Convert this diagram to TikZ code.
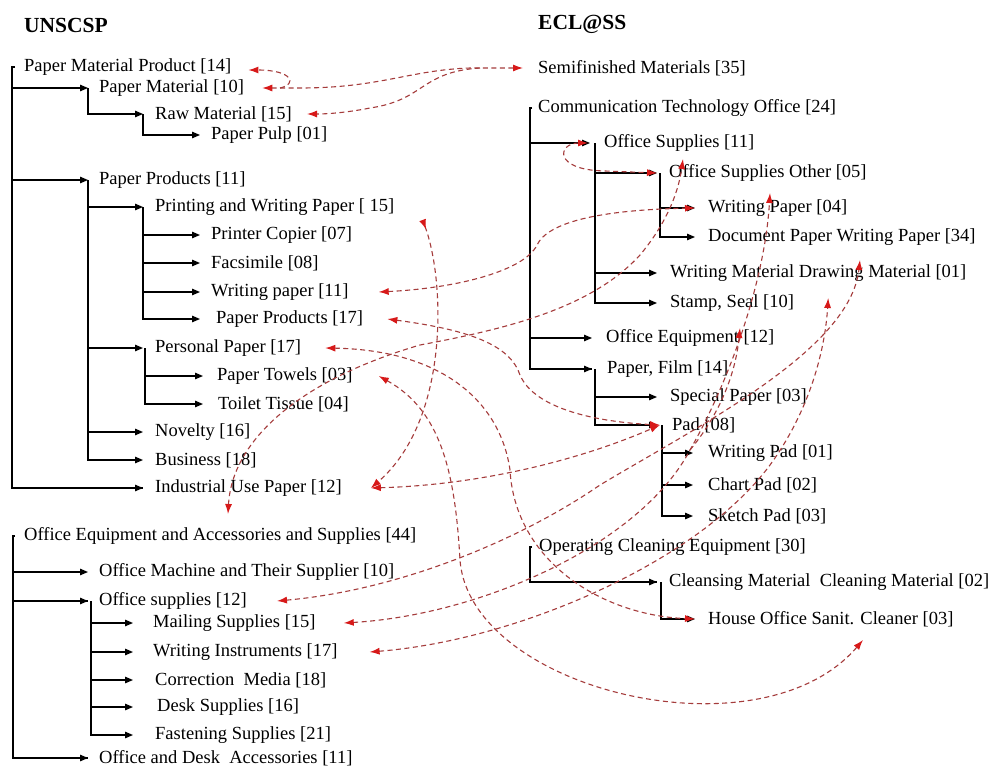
\documentclass[tikz,border=0pt]{standalone}
\usepackage{fontspec}
\setmainfont{Liberation Serif}
\usetikzlibrary{arrows.meta}
\definecolor{linkred}{RGB}{165,60,60}
\definecolor{tipred}{RGB}{215,25,25}
\begin{document}
\begin{tikzpicture}[x=1pt,y=-1pt,
  lbl/.style={anchor=west,inner sep=0pt,font=\fontsize{18.5}{20}\selectfont},
  head/.style={anchor=west,inner sep=0pt,font=\fontsize{21.5}{24}\selectfont\bfseries},
  tree/.style={line width=1.3pt,-{Triangle[length=8pt,width=6.5pt]}},
  bar/.style={line width=1.3pt},
  trunk/.style={line width=2.6pt},
  link/.style={draw=linkred,line width=1.1pt,dash pattern=on 5pt off 3.5pt,
    >={Latex[length=10pt,width=7pt,color=tipred]}},
  backtip/.style={arrows={{Latex[reversed,length=10pt,width=7pt,color=tipred]}-{Latex[length=10pt,width=7pt,color=tipred]}}}]
\fill[white] (0,0) rectangle (994,771);
\useasboundingbox (0,0) rectangle (994,771);

% ---------------- UNSCSP ----------------
\node[head] (hu) at (24,25) {UNSCSP};
\node[lbl] (pmp) at (24,67) {Paper Material Product [14]};
\node[lbl] (pm) at (99,88) {Paper Material [10]};
\node[lbl] (rm) at (155,114) {Raw Material [15]};
\node[lbl] (pulp) at (211,135) {Paper Pulp [01]};
\node[lbl] (pprod) at (99,180) {Paper Products [11]};
\node[lbl] (pwp) at (155,207) {Printing and Writing Paper [ 15]};
\node[lbl] (pc) at (211,235) {Printer Copier [07]};
\node[lbl] (fax) at (211,263) {Facsimile [08]};
\node[lbl] (wp) at (211,292) {Writing paper [11]};
\node[lbl] (pp17) at (216,319) {Paper Products [17]};
\node[lbl] (pers) at (155,348) {Personal Paper [17]};
\node[lbl] (towel) at (217,376) {Paper Towels [03]};
\node[lbl] (tissue) at (218,404) {Toilet Tissue [04]};
\node[lbl] (nov) at (155,432) {Novelty [16]};
\node[lbl] (bus) at (155,460) {Business [18]};
\node[lbl] (ind) at (155,488) {Industrial Use Paper [12]};

\node[lbl] (oeas) at (24,536) {Office Equipment and Accessories and Supplies [44]};
\node[lbl] (omts) at (99,572) {Office Machine and Their Supplier [10]};
\node[lbl] (os12) at (99,601) {Office supplies [12]};
\node[lbl] (mail) at (153,623) {Mailing Supplies [15]};
\node[lbl] (wi) at (153,652) {Writing Instruments [17]};
\node[lbl] (cm) at (155,680) {Correction\ \ Media [18]};
\node[lbl] (ds) at (157,707) {Desk Supplies [16]};
\node[lbl] (fs) at (155,735) {Fastening Supplies [21]};
\node[lbl] (oda) at (99,758) {Office and Desk\ \ Accessories [11]};

% ---------------- ECL@SS ----------------
\node[head] (he) at (538,24) {ECL@SS};
\node[lbl] (semi) at (538,68) {Semifinished Materials [35]};
\node[lbl] (cto) at (538,108) {Communication Technology Office [24]};
\node[lbl] (os11) at (604,143) {Office Supplies [11]};
\node[lbl] (oso) at (669,173) {Office Supplies Other [05]};
\node[lbl] (wp04) at (708,208) {Writing Paper [04]};
\node[lbl] (dpwp) at (708,237) {Document Paper Writing Paper [34]};
\node[lbl] (wmdm) at (670,273) {Writing Material Drawing Material [01]};
\node[lbl] (ss) at (670,303) {Stamp, Seal [10]};
\node[lbl] (oe) at (606,338) {Office Equipment [12]};
\node[lbl] (pf) at (607,369) {Paper, Film [14]};
\node[lbl] (sp) at (670,397) {Special Paper [03]};
\node[lbl] (pad) at (672,425) {Pad [08]};
\node[lbl] (wpad) at (708,453) {Writing Pad [01]};
\node[lbl] (cp) at (708,485) {Chart Pad [02]};
\node[lbl] (skp) at (708,516) {Sketch Pad [03]};
\node[lbl] (oce) at (539,547) {Operating Cleaning Equipment [30]};
\node[lbl] (cmcm) at (669,582) {Cleansing Material\ \ Cleaning Material [02]};
\node[lbl] (hosc) at (708,619) {House Office Sanit. Cleaner [03]};

% ---------------- tree connectors, left ----------------
\draw[bar] ([xshift=-9pt]pmp.west) -- ([xshift=-12pt]pmp.west) |- ([xshift=-12pt]ind.west);
\draw[tree] ([xshift=-12pt]pmp.west) |- ([xshift=-11pt]pm.west);
\draw[tree] ([xshift=-12pt]pmp.west) |- ([xshift=-11pt]pprod.west);
\draw[tree] ([xshift=-12pt]pmp.west) |- ([xshift=-12pt]ind.west);
\draw[tree] ([xshift=-11pt]pm.west) |- ([xshift=-12pt]rm.west);
\draw[tree] ([xshift=-12pt]rm.west) |- ([xshift=-11pt]pulp.west);
\draw[tree] ([xshift=-11pt]pprod.west) |- ([xshift=-12pt]pwp.west);
\draw[tree] ([xshift=-11pt]pprod.west) |- ([xshift=-12pt]pers.west);
\draw[tree] ([xshift=-11pt]pprod.west) |- ([xshift=-12pt]nov.west);
\draw[tree] ([xshift=-11pt]pprod.west) |- ([xshift=-12pt]bus.west);
\draw[tree] ([xshift=-12pt]pwp.west) |- ([xshift=-11pt]pc.west);
\draw[tree] ([xshift=-12pt]pwp.west) |- ([xshift=-11pt]fax.west);
\draw[tree] ([xshift=-12pt]pwp.west) |- ([xshift=-11pt]wp.west);
\draw[tree] ([xshift=-12pt]pwp.west) |- ([xshift=-16pt]pp17.west);
\draw[tree] ([xshift=-10pt]pers.west) |- ([xshift=-14pt]towel.west);
\draw[tree] ([xshift=-10pt]pers.west) |- ([xshift=-15pt]tissue.west);

\draw[trunk] ([xshift=-11pt]oeas.west) |- ([xshift=-11pt]os12.west);
\draw[bar] ([xshift=-9pt]oeas.west) -- ([xshift=-11pt]oeas.west) |- ([xshift=-11pt]oda.west);
\draw[tree] ([xshift=-11pt]oeas.west) |- ([xshift=-11pt]omts.west);
\draw[tree] ([xshift=-11pt]oeas.west) |- ([xshift=-11pt]os12.west);
\draw[tree] ([xshift=-11pt]oeas.west) |- ([xshift=-11pt]oda.west);
\draw[trunk] ([xshift=-8pt]os12.west) -- ([xshift=-8pt]os12.west |- fs.west);
\draw[tree] ([xshift=-8pt]os12.west) |- ([xshift=-20pt]mail.west);
\draw[tree] ([xshift=-8pt]os12.west) |- ([xshift=-20pt]wi.west);
\draw[tree] ([xshift=-8pt]os12.west) |- ([xshift=-22pt]cm.west);
\draw[tree] ([xshift=-8pt]os12.west) |- ([xshift=-24pt]ds.west);
\draw[tree] ([xshift=-8pt]os12.west) |- ([xshift=-22pt]fs.west);

% ---------------- tree connectors, right ----------------
\draw[trunk] ([xshift=-8pt]cto.west) -- ([xshift=-8pt]cto.west |- oe.west);
\draw[bar] ([xshift=-6pt]cto.west) -- ([xshift=-8pt]cto.west) |- ([xshift=-15pt]pf.west);
\draw[tree] ([xshift=-8pt]cto.west) |- ([xshift=-14pt]os11.west);
\draw[tree] ([xshift=-8pt]cto.west) |- ([xshift=-14pt]oe.west);
\draw[tree] ([xshift=-8pt]cto.west) |- ([xshift=-15pt]pf.west);
\draw[tree] ([xshift=-9pt]os11.west) |- ([xshift=-12pt]oso.west);
\draw[tree] ([xshift=-9pt]os11.west) |- ([xshift=-13pt]wmdm.west);
\draw[tree] ([xshift=-9pt]os11.west) |- ([xshift=-13pt]ss.west);
\draw[tree] ([xshift=-9pt]oso.west) |- ([xshift=-13pt]wp04.west);
\draw[tree] ([xshift=-9pt]oso.west) |- ([xshift=-13pt]dpwp.west);
\draw[tree] ([xshift=-12pt]pf.west) |- ([xshift=-13pt]sp.west);
\draw[tree] ([xshift=-12pt]pf.west) |- ([xshift=-15pt]pad.west);
\draw[tree] ([xshift=-10pt]pad.west) |- ([xshift=-15pt]wpad.west);
\draw[tree] ([xshift=-10pt]pad.west) |- ([xshift=-15pt]cp.west);
\draw[tree] ([xshift=-10pt]pad.west) |- ([xshift=-15pt]skp.west);
\draw[bar] ([xshift=-7pt]oce.west) -- ([xshift=-9pt]oce.west) |- ([xshift=-12pt]cmcm.west);
\draw[tree] ([xshift=-9pt]oce.west) |- ([xshift=-12pt]cmcm.west);
\draw[tree] ([xshift=-8pt]cmcm.west) |- ([xshift=-13pt]hosc.west);

% ---------------- correspondence links ----------------
\draw[link,<->] ([xshift=18pt]pm.east) -- (300,88) .. controls (380,88) and (410,70) .. (470,68) -- ([xshift=-15pt]semi.west);
\draw[link,->] (280,88) .. controls (298,84) and (292,70) .. ([xshift=17pt,yshift=-3pt]pmp.east);
\draw[link,->] (480,68) .. controls (420,72) and (425,100) .. (370,108) .. controls (350,112) and (330,114) .. ([xshift=15pt]rm.east);
\draw[link,<->] ([xshift=-16pt]os11.west) .. controls (558,143) and (552,170) .. (605,171) -- ([xshift=-12pt]oso.west);
\draw[link,<->] ([xshift=30pt]wp.east) .. controls (460,288) and (525,270) .. (537,245) .. controls (548,222) and (600,210) .. ([xshift=-13pt]wp04.west);
\draw[link,<->] ([xshift=24pt]pp17.east) .. controls (470,330) and (510,345) .. (520,375) .. controls (535,410) and (600,422) .. ([xshift=-12pt]pad.west);
\draw[link,<->] ([xshift=204pt,yshift=22pt]oeas.west) .. controls (232,440) and (300,380) .. (420,345) .. controls (500,330) and (590,310) .. (640,255) .. controls (665,225) and (678,195) .. ([xshift=14pt,yshift=14pt]oso.west);
\draw[link,<->] ([xshift=24pt]pers.east) .. controls (440,350) and (500,400) .. (510,470) .. controls (515,560) and (600,615) .. ([xshift=-13pt]hosc.west);
\draw[link,<->] ([xshift=26pt]towel.east) .. controls (440,410) and (455,470) .. (460,560) .. controls (470,690) and (760,760) .. ([xshift=155pt,yshift=-21pt]hosc.west);
\draw[link,backtip] ([xshift=28pt,yshift=-13pt]pwp.east) .. controls (445,280) and (450,420) .. ([xshift=29pt]ind.east);
\draw[link,<->] ([xshift=29pt]ind.east) .. controls (480,485) and (580,460) .. ([xshift=-12pt]pad.west);
\draw[link,<->] ([xshift=30pt]os12.east) .. controls (400,590) and (520,540) .. (600,485) .. controls (700,425) and (850,350) .. ([xshift=190pt,yshift=13pt]wmdm.west);
\draw[link,<->] ([xshift=28pt]mail.east) .. controls (480,615) and (640,545) .. (690,450) .. controls (730,380) and (765,280) .. ([xshift=62pt,yshift=15pt]wp04.west);
\draw[link,<->] ([xshift=32pt]wi.east) .. controls (520,640) and (700,560) .. (770,465) .. controls (810,410) and (825,350) .. ([xshift=34pt,yshift=5pt]ss.east);
\draw[link,->] (690,450) .. controls (715,420) and (735,380) .. ([xshift=70pt,yshift=-25pt]ss.west);
\end{tikzpicture}
\end{document}
